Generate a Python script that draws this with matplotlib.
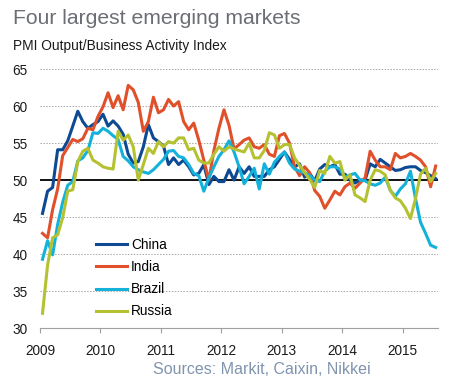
import numpy as np
import matplotlib
matplotlib.use("Agg")
import matplotlib.pyplot as plt

plt.rcParams['font.family'] = ['Liberation Sans', 'DejaVu Sans']

# monthly PMI, Jan 2009 .. Jul 2015
china = [45.5, 48.5, 49.0, 54.1, 54.1, 55.3, 57.3, 59.3, 57.9, 57.0, 57.5, 57.9,
         58.9, 57.3, 58.0, 57.3, 56.2, 53.5, 52.3, 52.5, 54.5, 57.5, 55.7, 55.2,
         54.6, 52.1, 53.0, 52.1, 52.7, 51.8, 50.7, 50.9, 52.1, 49.4, 50.5, 49.8,
         49.8, 51.4, 50.0, 51.8, 50.9, 51.8, 50.5, 50.5, 50.5, 51.4, 51.8, 52.8,
         53.8, 52.8, 51.8, 52.2, 50.4, 50.9, 49.9, 51.5, 52.1, 51.8, 52.1, 50.8,
         50.8, 50.0, 49.6, 50.0, 50.0, 52.2, 51.8, 52.8, 52.3, 51.8, 51.3, 51.4,
         51.7, 51.8, 51.8, 51.3, 51.0, 50.6, 50.2]
india = [42.8, 42.2, 46.0, 48.8, 53.3, 54.4, 55.5, 55.2, 55.6, 57.0, 56.8, 58.6,
         59.9, 61.8, 59.8, 61.4, 59.5, 62.8, 62.2, 60.5, 56.6, 57.9, 61.2, 59.1,
         59.5, 60.9, 60.0, 60.6, 57.9, 56.8, 57.7, 55.4, 52.7, 50.0, 54.0, 57.0,
         59.5, 57.4, 54.2, 54.8, 55.4, 55.7, 54.5, 54.3, 54.8, 53.5, 53.2, 56.0,
         56.3, 55.0, 51.8, 50.6, 51.8, 51.0, 48.6, 47.8, 46.2, 47.3, 48.5, 48.0,
         49.1, 49.6, 48.9, 49.6, 50.3, 53.9, 52.7, 51.8, 51.8, 51.4, 53.6, 53.0,
         53.2, 53.6, 53.2, 52.7, 51.8, 49.1, 51.9]
brazil = [39.3, 41.8, 39.9, 44.0, 47.0, 49.3, 49.8, 52.6, 53.0, 54.0, 56.4, 56.3,
          57.0, 56.6, 56.0, 55.5, 53.2, 52.6, 51.8, 51.4, 51.1, 50.9, 51.4, 52.1,
          52.8, 53.9, 54.0, 53.2, 53.0, 52.1, 50.9, 50.6, 48.5, 50.3, 51.8, 53.2,
          54.1, 55.3, 53.8, 51.8, 49.5, 50.5, 51.6, 48.8, 52.2, 50.8, 52.4, 53.2,
          53.8, 52.3, 51.5, 51.2, 51.0, 50.6, 50.0, 49.8, 51.2, 51.8, 51.8, 51.5,
          50.4, 50.7, 50.9, 50.0, 49.9, 49.5, 49.3, 49.6, 50.4, 48.6, 47.8, 48.8,
          49.5, 51.2, 47.5, 44.3, 42.8, 41.2, 40.9]
russia = [32.0, 38.5, 42.2, 42.6, 44.9, 48.5, 48.7, 52.5, 53.9, 54.3, 52.7, 52.3,
          51.8, 51.6, 51.5, 56.6, 55.4, 56.1, 54.5, 50.0, 52.1, 54.3, 53.6, 55.2,
          54.5, 55.2, 55.0, 55.7, 55.7, 54.1, 54.3, 52.7, 52.3, 52.3, 53.5, 54.5,
          53.9, 54.5, 54.2, 54.0, 53.8, 55.0, 53.0, 53.0, 54.0, 56.4, 56.1, 54.3,
          54.8, 54.8, 53.0, 52.0, 51.0, 50.1, 49.0, 51.3, 50.9, 53.2, 52.3, 52.5,
          50.0, 50.7, 48.0, 47.6, 47.1, 50.0, 51.4, 51.2, 50.7, 48.6, 47.6, 47.2,
          46.2, 44.8, 47.5, 50.8, 51.6, 49.8, 50.9]

names = ['China', 'India', 'Brazil', 'Russia']
colors = ['#0d4a93', '#e0512b', '#14b1da', '#b4c232']
years = [2009, 2010, 2011, 2012, 2013, 2014, 2015]
yticks = [30, 35, 40, 45, 50, 55, 60, 65]

n = len(china)
x = 2009 + (np.arange(n) + 0.5) / 12

fig = plt.figure(figsize=(4.53, 3.86), dpi=100)
ax = fig.add_axes([0.0883, 0.150, 0.879, 0.671])

for ylev in yticks[1:]:
    if ylev != 50:
        ax.axhline(ylev, color='#a8a8a8', lw=0.7, ls=(0, (1.5, 1.5)), zorder=1)
ax.axhline(50, color='black', lw=1.3, zorder=2)

for vals, name, c in zip([china, india, brazil, russia], names, colors):
    ax.plot(x, vals, color=c, lw=2.2, label=name, zorder=3)

ax.set_xlim(2009, 2009 + n / 12)
ax.set_ylim(30, 65)
ax.set_xticks(years)
ax.set_xticklabels([str(y) for y in years])
ax.set_yticks(yticks)
for s in ['top', 'right', 'left']:
    ax.spines[s].set_visible(False)
ax.spines['bottom'].set_color('#a0a0a0')
ax.tick_params(axis='y', length=0, pad=9, labelsize=9.8, colors='#1a1a1a')
ax.tick_params(axis='x', length=3.5, color='#a0a0a0', pad=8, labelsize=9.8,
               labelcolor='#1a1a1a')

ax.legend(loc='upper left', bbox_to_anchor=(0.141, 0.348), frameon=False,
          fontsize=9.8, handlelength=2.3, handletextpad=0.25, labelspacing=0.6,
          borderpad=0, borderaxespad=0)

fig.text(0.029, 0.952, 'Four largest emerging markets', fontsize=15.2,
         color='#6b6e74', va='center', ha='left')
fig.text(0.029, 0.88, 'PMI Output/Business Activity Index', fontsize=9.9,
         color='#1a1a1a', va='center', ha='left')
fig.text(0.338, 0.044, 'Sources: Markit, Caixin, Nikkei', fontsize=11.5,
         color='#8194ae', va='center', ha='left')

fig.savefig('out.png', dpi=100)
